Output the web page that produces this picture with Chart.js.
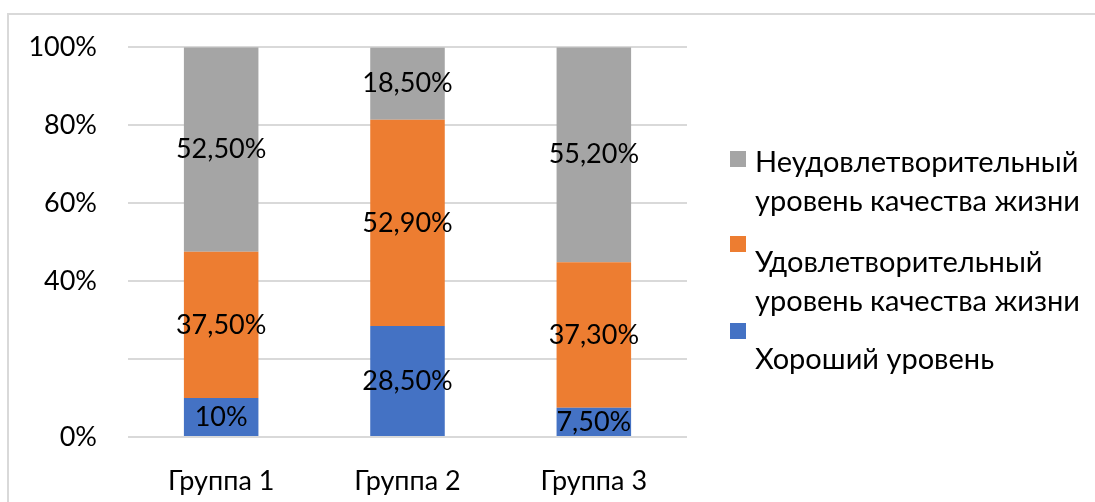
<!DOCTYPE html>
<html>
<head>
<meta charset="utf-8">
<script src="https://cdn.jsdelivr.net/npm/chart.js@4/dist/chart.umd.min.js"></script>
<style>
  html, body { margin: 0; padding: 0; background: #fff; }
  #wrap { width: 1095px; height: 502px; position: relative; }
</style>
</head>
<body>
<div id="wrap"><canvas id="grafico"></canvas></div>
<script>
// datos del grafico
const grupos      = ['Группа 1', 'Группа 2', 'Группа 3'];
const bueno       = [10, 28.5, 7.5];
const satisf      = [37.5, 52.9, 37.3];
const insatisf    = [52.5, 18.5, 55.2];
const nombres     = ['Хороший уровень',
                     'Удовлетворительный уровень качества жизни',
                     'Неудовлетворительный уровень качества жизни'];
const yTicks      = ['0%', '', '40%', '60%', '80%', '100%'];

const FUENTE = 'Lato, "Open Sans", "Liberation Sans", sans-serif';

function fmt(v){
  if (Number.isInteger(v)) return v + '%';
  return v.toFixed(2).replace('.', ',') + '%';
}

// etiquetas dentro de cada segmento
const pluginEtiquetas = {
  id: 'etiquetas',
  afterDatasetsDraw(chart){
    const ctx = chart.ctx;
    ctx.save();
    ctx.font = '27px ' + FUENTE;
    ctx.fillStyle = '#000';
    ctx.textAlign = 'center';
    ctx.textBaseline = 'middle';
    chart.data.datasets.forEach((ds, i) => {
      chart.getDatasetMeta(i).data.forEach((bar, j) => {
        const y = (bar.y + bar.base) / 2;
        ctx.fillText(fmt(ds.data[j]), bar.x, y);
      });
    });
    ctx.restore();
  }
};

// leyenda a la derecha y marco
const pluginLeyenda = {
  id: 'leyenda',
  afterDraw(chart){
    const ctx = chart.ctx;
    ctx.save();
    // marco
    ctx.strokeStyle = '#d9d9d9';
    ctx.lineWidth = 2;
    ctx.beginPath();
    ctx.moveTo(8, 502);
    ctx.lineTo(8, 14);
    ctx.lineTo(1095, 14);
    ctx.stroke();

    const items = [
      { ds: 2, my: 151, lines: ['Неудовлетворительный', 'уровень качества жизни'], ty: [163, 202] },
      { ds: 1, my: 236, lines: ['Удовлетворительный', 'уровень качества жизни'], ty: [263, 302] },
      { ds: 0, my: 323, lines: ['Хороший уровень'], ty: [360] }
    ];
    ctx.font = '29px ' + FUENTE;
    ctx.textAlign = 'left';
    ctx.textBaseline = 'middle';
    items.forEach(it => {
      ctx.fillStyle = chart.data.datasets[it.ds].backgroundColor;
      ctx.fillRect(730, it.my, 16, 16);
      ctx.fillStyle = '#000';
      it.lines.forEach((t, k) => ctx.fillText(t, 755, it.ty[k]));
    });
    ctx.restore();
  }
};

new Chart(document.getElementById('grafico'), {
  type: 'bar',
  data: {
    labels: grupos,
    datasets: [
      { label: nombres[0], data: bueno,    backgroundColor: '#4472C4' },
      { label: nombres[1], data: satisf,   backgroundColor: '#ED7D31' },
      { label: nombres[2], data: insatisf, backgroundColor: '#A5A5A5' }
    ]
  },
  options: {
    responsive: true,
    maintainAspectRatio: false,
    animation: false,
    barPercentage: 0.4,
    categoryPercentage: 1,
    layout: { padding: { top: 45, right: 408, left: 0, bottom: 0 } },
    plugins: {
      legend: { display: false },
      tooltip: { enabled: false }
    },
    scales: {
      x: {
        stacked: true,
        grid: { display: false },
        border: { display: false },
        ticks: { color: '#000', font: { family: FUENTE, size: 27 }, padding: 20 },
        afterFit(s){ s.height = 65; }
      },
      y: {
        stacked: true,
        min: 0,
        max: 100,
        grid: { color: '#d9d9d9', lineWidth: 2, drawTicks: false },
        border: { display: false },
        ticks: {
          stepSize: 20,
          color: '#000',
          padding: 31,
          font: { family: FUENTE, size: 27 },
          callback: (v, i) => yTicks[i]
        },
        afterFit(s){ s.width = 128; }
      }
    }
  },
  plugins: [pluginEtiquetas, pluginLeyenda]
});
</script>
</body>
</html>
